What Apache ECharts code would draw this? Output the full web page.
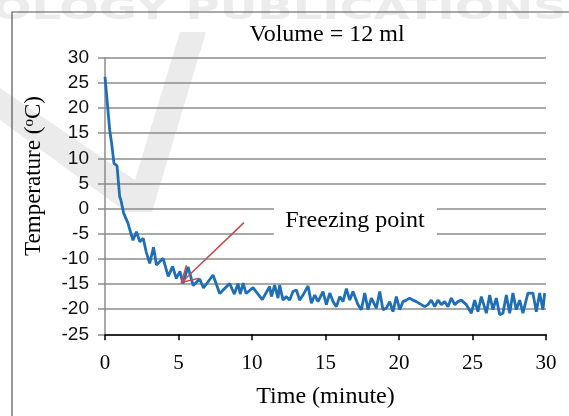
<!DOCTYPE html>
<html>
<head>
<meta charset="utf-8">
<script src="https://cdn.jsdelivr.net/npm/echarts@6/dist/echarts.min.js"></script>
<style>
  html, body { margin: 0; padding: 0; background: #fff; }
  #chart { width: 569px; height: 416px; }
</style>
</head>
<body>
<div id="chart"></div>
<script>
// time in minutes, temperature in degrees C
var timeMin = [
  0, 0.14, 0.32, 0.45, 0.61, 0.7, 0.82, 0.9, 1.0, 1.08, 1.27, 1.56, 1.9, 2.14, 2.37, 2.6, 2.8,
  3.04, 3.3, 3.5, 3.95, 4.3, 4.6, 4.85, 5.1, 5.3, 5.65, 6.0, 6.44, 6.7, 7.35, 7.8, 8.48, 8.8,
  9.05, 9.2, 9.4, 9.6, 10.07, 10.7,
  11.2, 11.32, 11.54, 11.77, 11.88, 12.11, 12.34, 12.56, 12.79, 13.02, 13.24, 13.47, 13.81, 14.04,
  14.27, 14.49, 14.83, 15.06, 15.29, 15.51, 15.74, 15.97, 16.19, 16.42, 16.65, 16.87, 17.21, 17.44,
  17.67, 17.89, 18.12, 18.46, 18.69, 18.91, 19.14, 19.37, 19.59, 19.82, 20.05, 20.27, 20.5, 20.73,
  20.95, 21.18, 21.52, 21.75, 21.97, 22.2, 22.43, 22.65, 22.88, 23.11, 23.33, 23.56, 23.79, 24.01,
  24.24, 24.58, 24.92, 25.15, 25.37, 25.6, 25.94, 26.17, 26.39, 26.62, 26.85, 27.07, 27.3, 27.53,
  27.75, 27.98, 28.21, 28.43, 28.77, 29.11, 29.34, 29.57, 29.79, 29.91
];
var tempC = [
  26.2, 21.6, 15.6, 13, 9, 8.7, 8.5, 5.7, 2.4, 1.7, -0.9, -2.9, -6.3, -4.6, -6.6, -5.9, -8.6,
  -10.9, -7.7, -11.2, -9.9, -13.5, -11.5, -13.9, -12.5, -14.9, -11.6, -15.3, -14.0, -15.8, -13.2, -16.9, -14.9, -17,
  -14.9, -17, -14.8, -16.9, -15.7, -18.1,
  -15.5, -17.5, -15.2, -17.8, -15.2, -18.2, -17.5, -18.2, -16.5, -16.2, -18.2, -17.2, -15.4, -18.8,
  -17.2, -18.5, -16.5, -19.1, -16.8, -18.5, -19.5, -17.5, -18.5, -15.9, -18.2, -16.5, -19.1, -20.1,
  -16.8, -20.1, -17.8, -19.8, -16.5, -20.1, -19.8, -18.5, -20.5, -17.5, -20.1, -18.5, -18.2, -17.8,
  -18.2, -18.5, -19.1, -19.5, -19.1, -18.2, -19.5, -18.2, -19.1, -18.5, -19.5, -17.8, -19.1, -18.5,
  -18.2, -19.1, -20.8, -18.2, -20.5, -17.5, -20.8, -17.2, -20.1, -17.8, -21.1, -20.8, -17.2, -20.8,
  -16.8, -20.1, -18.2, -20.8, -16.8, -16.8, -20.5, -16.8, -20.1, -16.8
];

var xTicks = { min: 0, max: 30, step: 5 };
var yTicks = { min: -25, max: 30, step: 5 };

// annotation: arrow tail -> tip, and label anchor (data units)
var arrowFrom = [9.45, -2.8];
var arrowTo = [5.2, -14.7];
var noteAt = [17.0, -2.5];
var noteText = 'Freezing point';

var points = timeMin.map(function(t, i) { return [t, tempC[i]]; });

var serif = '"Liberation Serif", "Times New Roman", serif';
var sans = '"Liberation Sans", Arial, sans-serif';

var chart = echarts.init(document.getElementById('chart'), null, { renderer: 'canvas' });
chart.setOption({
  backgroundColor: '#fff',
  animation: false,
  title: {
    text: 'Volume = 12 ml', left: 322, top: 18, textAlign: 'center',
    textStyle: { fontFamily: serif, fontSize: 24, fontWeight: 'normal', color: '#000' }
  },
  grid: { left: 105, right: 23, top: 57.7, bottom: 81.7, outerBoundsMode: 'none' },
  xAxis: {
    type: 'value', min: xTicks.min, max: xTicks.max, interval: xTicks.step,
    name: 'Time (minute)', nameLocation: 'middle', nameGap: 50,
    nameTextStyle: { fontFamily: serif, fontSize: 24, color: '#000' },
    axisLine: { show: true, onZero: false, lineStyle: { color: '#000', width: 1.5 } },
    axisTick: { show: true, inside: false, length: 6, lineStyle: { color: '#000', width: 1.5 } },
    axisLabel: { fontFamily: serif, fontSize: 21, color: '#000', margin: 19 },
    splitLine: { show: false }
  },
  yAxis: {
    type: 'value', min: yTicks.min, max: yTicks.max, interval: yTicks.step,
    name: '{a|Temperature (}{s|o}{a|C)}', nameLocation: 'middle', nameGap: 60, nameRotate: 90,
    nameTextStyle: {
      padding: [0, 0, 0, 40],
      rich: {
        a: { fontFamily: serif, fontSize: 23, color: '#000' },
        s: { fontFamily: serif, fontSize: 15, color: '#000', verticalAlign: 'top', padding: [0, 0, 7, 0] }
      }
    },
    axisLine: { show: true, onZero: false, lineStyle: { color: '#8c8c8c', width: 1.5 } },
    axisTick: { show: true, inside: false, length: 7, lineStyle: { color: '#8c8c8c', width: 1.5 } },
    axisLabel: { fontFamily: sans, fontSize: 19, color: '#111', margin: 16 },
    splitLine: { show: true, lineStyle: { color: '#8c8c8c', width: 1.5 } }
  },
  graphic: [
    {
      type: 'text', left: -8, top: -5, z: -10, scaleX: 1.45,
      style: { text: 'OLOGY PUBLICATIONS', fill: '#ececec', font: 'bold 32px "DejaVu Sans", sans-serif' }
    },
    {
      type: 'polygon', z: -10,
      shape: { points: [[0, 88], [135, 180], [180, 32], [206, 32], [152, 212], [126, 212], [0, 120]] },
      style: { fill: '#ebebeb' }
    },
    {
      type: 'rect', z: 100,
      shape: { x: 12, y: 12, width: 620, height: 420 },
      style: { fill: 'none', stroke: '#555', lineWidth: 1.2 }
    }
  ],
  series: [
    {
      type: 'line', data: points, showSymbol: false, smooth: false, z: 3,
      lineStyle: { color: '#1f6fb8', width: 2.8 }
    },
    {
      type: 'custom', z: 4, silent: true,
      data: [[arrowFrom[0], arrowFrom[1], arrowTo[0], arrowTo[1], noteAt[0], noteAt[1]]],
      renderItem: function(params, api) {
        var a = api.coord([api.value(0), api.value(1)]);
        var b = api.coord([api.value(2), api.value(3)]);
        var n = api.coord([api.value(4), api.value(5)]);
        var dx = a[0] - b[0], dy = a[1] - b[1];
        var len = Math.sqrt(dx * dx + dy * dy);
        var ux = dx / len, uy = dy / len;
        var head = 18, ang = Math.PI / 6;
        function rot(x, y, th) { return [x * Math.cos(th) - y * Math.sin(th), x * Math.sin(th) + y * Math.cos(th)]; }
        var r1 = rot(ux, uy, ang), r2 = rot(ux, uy, -ang);
        var stroke = { stroke: '#c0504d', lineWidth: 1.6, fill: null };
        return {
          type: 'group',
          children: [
            { type: 'rect', shape: { x: n[0] - 81, y: n[1] - 21, width: 163, height: 41 }, style: { fill: '#fff' } },
            { type: 'text', style: { x: n[0], y: n[1], text: noteText, align: 'center', verticalAlign: 'middle',
              font: '24px ' + serif, fill: '#000' } },
            { type: 'line', shape: { x1: a[0], y1: a[1], x2: b[0], y2: b[1] }, style: stroke },
            { type: 'polyline', shape: { points: [
              [b[0] + r1[0] * head, b[1] + r1[1] * head], [b[0], b[1]], [b[0] + r2[0] * head, b[1] + r2[1] * head]
            ] }, style: stroke }
          ]
        };
      }
    }
  ]
});
</script>
</body>
</html>
